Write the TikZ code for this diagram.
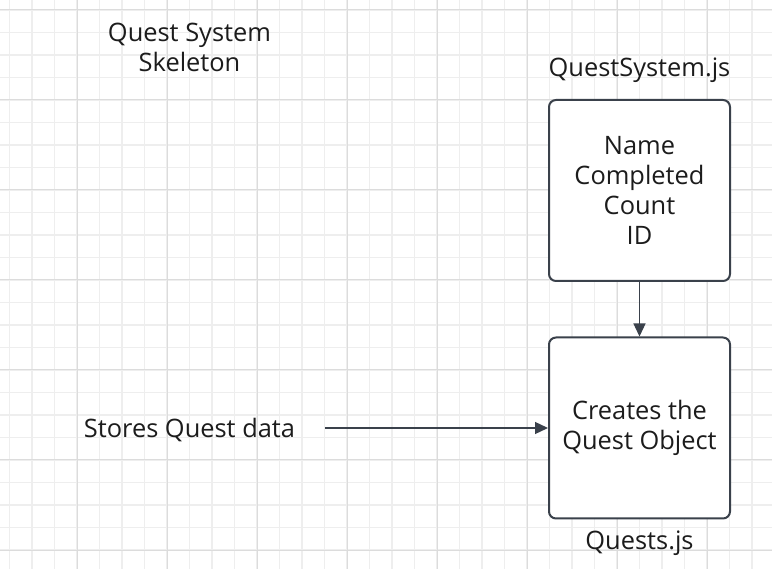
\documentclass[tikz,border=0pt]{standalone}
\usepackage{fontspec}
\setmainfont{Open Sans}
\usetikzlibrary{arrows.meta, positioning}
\definecolor{gridminor}{HTML}{EEEEEE}
\definecolor{gridmajor}{HTML}{DCDCDC}
\definecolor{boxline}{HTML}{3A414B}
\definecolor{inktext}{HTML}{1C1C1C}

\begin{document}
\begin{tikzpicture}[x=1pt, y=-1pt, >={Triangle[length=13pt, width=12pt]},
    lbl/.style={font=\fontsize{25.4}{30}\selectfont, text=inktext, align=center, inner sep=0pt},
    box/.style={lbl, draw=boxline, line width=2pt, rounded corners=7pt, fill=white,
        minimum width=181pt, minimum height=181pt},
    link/.style={->, draw=boxline, fill=boxline, line width=1.3pt}]
            % Hintergrund und Raster
            \useasboundingbox (0,0) rectangle (772,569);
            \fill[white] (0,0) rectangle (772,569);
            \foreach \i in {0,...,34}
                \draw[gridminor, line width=1.4pt] ({9.5+22.5*\i},0) -- ({9.5+22.5*\i},569);
            \foreach \i in {0,...,25}
                \draw[gridminor, line width=1.4pt] (0,{10+22.5*\i}) -- (772,{10+22.5*\i});
            \foreach \i in {0,...,8}
                \draw[gridmajor, line width=1pt] ({77+90*\i},0) -- ({77+90*\i},569);
            \foreach \i in {0,...,6}
                \draw[gridmajor, line width=1pt] (0,{10+90*\i}) -- (772,{10+90*\i});
            
            % Titel
            \node[lbl] (title) at (189.5, 47) {Quest System\\Skeleton};
            
            % Die beiden Kästen
            \node[box] (qsys) at (639.5, 190.5) {Name\\Completed\\Count\\ID};
            \node[box] (quests) at (639.5, 428) {Creates the\\Quest Object};
            
            % Dateinamen
            \node[lbl] (qsysname) at (639.5, 70) {QuestSystem.js};
            \node[lbl] (questsname) at (639.5, 543) {Quests.js};
            
            % Beschreibung links
            \node[lbl] (stores) at (189.5, 430) {Stores Quest data};
            \coordinate (storesend) at (325, 428);
            
            % Pfeile
            \draw[link] (qsys.south) -- (quests.north);
            \draw[link] (storesend) -- (quests.west);
        \end{tikzpicture}
\end{document}
